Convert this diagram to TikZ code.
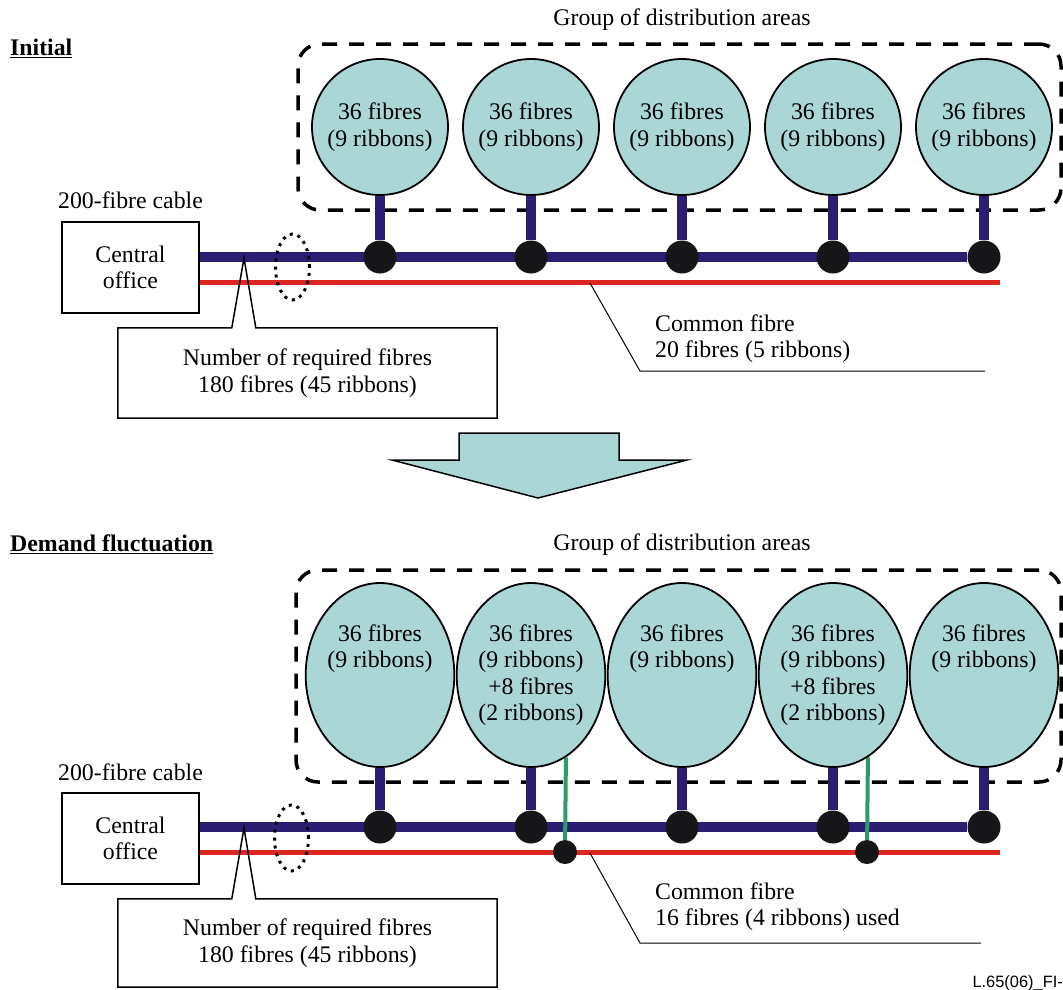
\documentclass[tikz,border=0pt]{standalone}
\usepackage{fontspec}
\setmainfont{Liberation Serif}
\newfontfamily\figfont{Liberation Sans}
\usetikzlibrary{shapes.geometric}
\pgfdeclarelayer{cables}
\pgfsetlayers{cables,main}
\definecolor{areafill}{RGB}{170,214,214}
\definecolor{trunkblue}{RGB}{43,29,114}
\definecolor{commonred}{RGB}{221,37,34}
\definecolor{extragreen}{RGB}{46,154,102}
\definecolor{dotblack}{RGB}{22,22,24}
\tikzset{
  area/.style={circle,draw,line width=1.8,fill=areafill,minimum size=136,align=center},
  oval/.style={ellipse,draw,line width=1.8,fill=areafill,minimum width=136,minimum height=184,align=center},
  joint/.style={circle,fill=dotblack,minimum size=33},
  tap/.style={circle,fill=dotblack,minimum size=24},
  trunk/.style={line width=10,trunkblue},
  common/.style={line width=5,commonred},
  extra/.style={line width=4,extragreen},
  office/.style={draw,line width=1.5,minimum width=137,minimum height=91,align=center},
  group/.style={draw,line width=3.5,dash pattern=on 15pt off 12pt,rounded corners=22},
  cut/.style={ellipse,draw,line width=3,dash pattern=on 3pt off 5pt,minimum width=34,minimum height=66},
  leader/.style={line width=1},
  callout/.style={draw,line width=1.5}
}

\begin{document}
\begin{tikzpicture}[x=1pt,y=-1pt,inner sep=0,font=\fontsize{23.8}{26.5}\selectfont]
\useasboundingbox (0,0) rectangle (1063,989);

% initial
\node[anchor=west] (ini) at (10,48) {\underline{\textbf{Initial}}};
\node (grp1t) at (682,20) {Group of distribution areas};
\node[area] (a1) at (380,127) {36 fibres\\(9 ribbons)};
\node[area] (a2) at (531,127) {36 fibres\\(9 ribbons)};
\node[area] (a3) at (682,127) {36 fibres\\(9 ribbons)};
\node[area] (a4) at (833,127) {36 fibres\\(9 ribbons)};
\node[area] (a5) at (984,127) {36 fibres\\(9 ribbons)};
\node (cab1) at (130.5,200) {200-fibre cable};
\node[office] (co1) at (130.5,267.5) {Central\\office};
\node[joint] (j1) at (380,257) {};
\node[joint] (j2) at (531,257) {};
\node[joint] (j3) at (682,257) {};
\node[joint] (j4) at (833,257) {};
\node[joint] (j5) at (984,257) {};
\coordinate (r1) at (1000,282);
\node[cut] (cut1) at (292.5,267) {};
\begin{pgfonlayer}{cables}
\node[group,minimum width=763,minimum height=166] (grp1) at (679.5,127) {};
\draw[trunk] (co1.east |- j1) -- (j5);
\draw[common] (co1.east |- r1) -- (r1);
\draw[trunk] (a1) -- (j1);
\draw[trunk] (a2) -- (j2);
\draw[trunk] (a3) -- (j3);
\draw[trunk] (a4) -- (j4);
\draw[trunk] (a5) -- (j5);
\end{pgfonlayer}
\node[minimum width=379,minimum height=90,align=center] (need1) at (307.5,373) {Number of required fibres\\180 fibres (45 ribbons)};
\coordinate (tip1) at (244,258);
\draw[callout] (need1.north west) -- ([xshift=114]need1.north west) -- (tip1) -- ([xshift=138]need1.north west) -- (need1.north east) -- (need1.south east) -- (need1.south west) -- cycle;
\node[align=left,anchor=west] (cf1) at (655,338.5) {Common fibre\\20 fibres (5 ribbons)};
\coordinate (cfa1) at (590,283);
\coordinate (cfb1) at (640,371);
\coordinate (cfc1) at (985,371);
\draw[leader] (cfa1) -- (cfb1) -- (cfc1);

\draw[line width=1.5,fill=areafill] (459,433) -- (619,433) -- (619,460) -- (687,460) -- (538,498) -- (392,460) -- (459,460) -- cycle;

% demand fluctuation
\node[anchor=west] (dem) at (10,544) {\underline{\textbf{Demand fluctuation}}};
\node (grp2t) at (682,545) {Group of distribution areas};
\node[oval] (e1) at (380,675) {36 fibres\\(9 ribbons)\\\phantom{+8 fibres}\\\phantom{(2 ribbons)}};
\node[oval] (e2) at (531,675) {36 fibres\\(9 ribbons)\\+8 fibres\\(2 ribbons)};
\node[oval] (e3) at (682,675) {36 fibres\\(9 ribbons)\\\phantom{+8 fibres}\\\phantom{(2 ribbons)}};
\node[oval] (e4) at (833,675) {36 fibres\\(9 ribbons)\\+8 fibres\\(2 ribbons)};
\node[oval] (e5) at (984,675) {36 fibres\\(9 ribbons)\\\phantom{+8 fibres}\\\phantom{(2 ribbons)}};
\node (cab2) at (130.5,772) {200-fibre cable};
\node[office] (co2) at (130.5,838.5) {Central\\office};
\node[joint] (k1) at (380,827) {};
\node[joint] (k2) at (531,827) {};
\node[joint] (k3) at (682,827) {};
\node[joint] (k4) at (833,827) {};
\node[joint] (k5) at (984,827) {};
\node[tap] (t1) at (565,852) {};
\node[tap] (t2) at (867,852) {};
\coordinate (r2) at (1000,852);
\node[cut] (cut2) at (291.5,838) {};
\begin{pgfonlayer}{cables}
\node[group,minimum width=765,minimum height=212] (grp2) at (678.5,676) {};
\draw[trunk] (co2.east |- k1) -- (k5);
\draw[common] (co2.east |- r2) -- (r2);
\draw[trunk] (e1) -- (k1);
\draw[trunk] (e2) -- (k2);
\draw[trunk] (e3) -- (k3);
\draw[trunk] (e4) -- (k4);
\draw[trunk] (e5) -- (k5);
\draw[extra] (e2.-67) -- (t1);
\draw[extra] (e4.-67) -- (t2);
\end{pgfonlayer}
\node[minimum width=379,minimum height=88,align=center] (need2) at (307.5,943) {Number of required fibres\\180 fibres (45 ribbons)};
\coordinate (tip2) at (244,828);
\draw[callout] (need2.north west) -- ([xshift=114]need2.north west) -- (tip2) -- ([xshift=138]need2.north west) -- (need2.north east) -- (need2.south east) -- (need2.south west) -- cycle;
\node[align=left,anchor=west] (cf2) at (655,906.5) {Common fibre\\16 fibres (4 ribbons) used};
\coordinate (cfa2) at (590,853);
\coordinate (cfb2) at (640,943);
\coordinate (cfc2) at (981,943);
\draw[leader] (cfa2) -- (cfb2) -- (cfc2);

\node[anchor=east,font=\figfont\fontsize{16.4}{18}\selectfont] (fig) at (1063,983) {L.65(06)\_FI-};
\end{tikzpicture}
\end{document}
